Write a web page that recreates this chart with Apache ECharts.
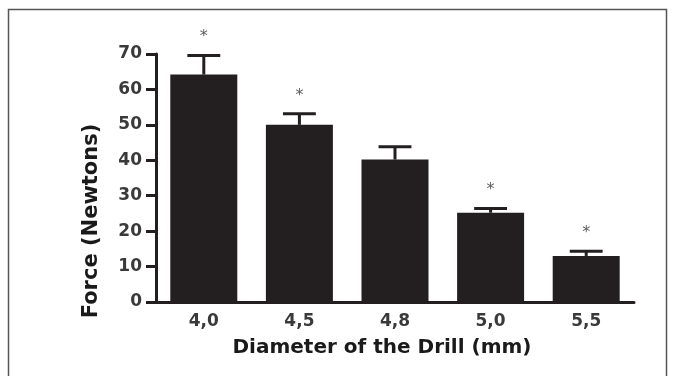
<!DOCTYPE html>
<html>
<head>
<meta charset="utf-8">
<script src="https://cdn.jsdelivr.net/npm/echarts@6/dist/echarts.min.js"></script>
<style>
  html, body { margin: 0; padding: 0; background: #ffffff; }
  #chart { width: 675px; height: 376px; }
</style>
</head>
<body>
<div id="chart"></div>
<script>
// Drill diameter categories and measured force
const diameters = ["4,0", "4,5", "4,8", "5,0", "5,5"];
const forceMean = [64.2, 50, 40.2, 25.2, 13];
const forceError = [5.4, 3.1, 3.6, 1.2, 1.3];
const significance = ["*", "*", "", "*", "*"];
const yTicks = [0, 10, 20, 30, 40, 50, 60, 70];

const ink = "#231f20";
const labelFont = "DejaVu Sans";

const errorData = diameters.map((d, i) => [i, forceMean[i], forceMean[i] + forceError[i]]);
const starData = diameters.map((d, i) => ({
  value: [i, forceMean[i] + forceError[i]],
  label: { formatter: significance[i] }
}));

const chart = echarts.init(document.getElementById("chart"), null, { renderer: "canvas" });

chart.setOption({
  animation: false,
  backgroundColor: "#ffffff",
  grid: { left: 156, right: 41, top: 54, bottom: 74 },
  xAxis: {
    type: "category",
    data: diameters,
    axisLine: { lineStyle: { color: ink, width: 3 } },
    axisTick: { alignWithLabel: true, length: 8, lineStyle: { color: ink, width: 3 } },
    axisLabel: {
      color: "#3a3a3a",
      fontFamily: labelFont,
      fontWeight: "bold",
      fontSize: 17,
      margin: 11
    }
  },
  yAxis: {
    type: "value",
    min: yTicks[0],
    max: yTicks[yTicks.length - 1],
    interval: 10,
    axisLine: { show: true, lineStyle: { color: ink, width: 3 } },
    axisTick: { show: true, length: 10, lineStyle: { color: ink, width: 3 } },
    axisLabel: {
      color: "#3a3a3a",
      fontFamily: labelFont,
      fontWeight: "bold",
      fontSize: 17,
      margin: 14
    },
    splitLine: { show: false }
  },
  series: [
    {
      type: "bar",
      data: forceMean,
      barWidth: 67,
      itemStyle: { color: ink },
      z: 2
    },
    {
      type: "custom",
      data: errorData,
      renderItem(params, api) {
        const x = api.value(0);
        const p0 = api.coord([x, api.value(1)]);
        const p1 = api.coord([x, api.value(2)]);
        const half = api.size([1, 0])[0] * 0.172;
        const style = { stroke: ink, lineWidth: 3 };
        return {
          type: "group",
          children: [
            { type: "line", shape: { x1: p0[0], y1: p0[1], x2: p1[0], y2: p1[1] }, style },
            { type: "line", shape: { x1: p1[0] - half, y1: p1[1], x2: p1[0] + half, y2: p1[1] }, style }
          ]
        };
      },
      z: 3
    },
    {
      type: "scatter",
      data: starData,
      symbolSize: 1,
      itemStyle: { color: "rgba(0,0,0,0)" },
      label: {
        show: true,
        position: "top",
        distance: 10,
        color: "#333333",
        fontFamily: labelFont,
        fontSize: 16
      },
      z: 4
    }
  ],
  graphic: [
    {
      type: "rect",
      shape: { x: 8.5, y: 9.5, width: 658, height: 380 },
      style: { fill: "none", stroke: "#555555", lineWidth: 1.5 },
      silent: true
    },
    {
      type: "text",
      x: 382,
      y: 348,
      style: {
        text: "Diameter of the Drill (mm)",
        font: "bold 20px DejaVu Sans",
        fill: "#1a1a1a",
        align: "center",
        verticalAlign: "middle"
      }
    },
    {
      type: "text",
      x: 92,
      y: 221,
      rotation: Math.PI / 2,
      style: {
        text: "Force (Newtons)",
        font: "bold 21px DejaVu Sans",
        fill: "#1a1a1a",
        align: "center",
        verticalAlign: "middle"
      }
    }
  ]
});
</script>
</body>
</html>
